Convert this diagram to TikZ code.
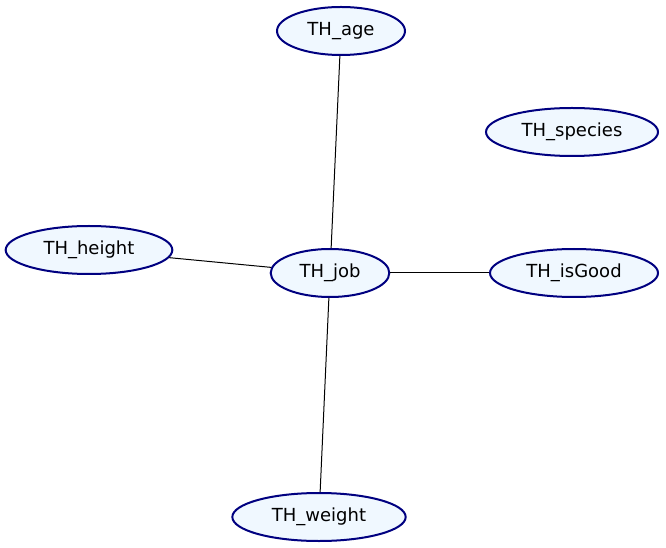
\documentclass[tikz,border=0pt]{standalone}
\usepackage{fontspec}
\setmainfont{DejaVu Sans}
\usetikzlibrary{shapes.geometric}

\definecolor{nodefill}{HTML}{F0F8FF}
\definecolor{nodeline}{HTML}{000080}

\begin{document}
\begin{tikzpicture}[
    x=0.75pt,
    y=-0.75pt,
    varnode/.style = {
        ellipse,
        draw=nodeline,
        line width=1.5pt,
        fill=nodefill,
        inner sep=0pt,
        minimum height=36pt,
        font=\fontsize{13.5}{16}\selectfont
    },
    link/.style = {
        draw=black,
        line width=0.75pt
    }
]

\useasboundingbox (0,0) rectangle (666,548);

\node (age) [varnode, minimum width=96pt] at (341,31) {TH\_age};

\node (species) [varnode, minimum width=129pt] at (572,132) {TH\_species};

\node (height) [varnode, minimum width=125pt] at (89,250) {TH\_height};

\node (job) [varnode, minimum width=89pt] at (330,273) {TH\_job};

\node (isgood) [varnode, minimum width=126pt] at (574,273) {TH\_isGood};

\node (weight) [varnode, minimum width=130pt] at (319,517) {TH\_weight};

\draw [link] (job) -- (age);
\draw [link] (job) -- (height);
\draw [link] (job) -- (isgood);
\draw [link] (job) -- (weight);

\end{tikzpicture}
\end{document}
